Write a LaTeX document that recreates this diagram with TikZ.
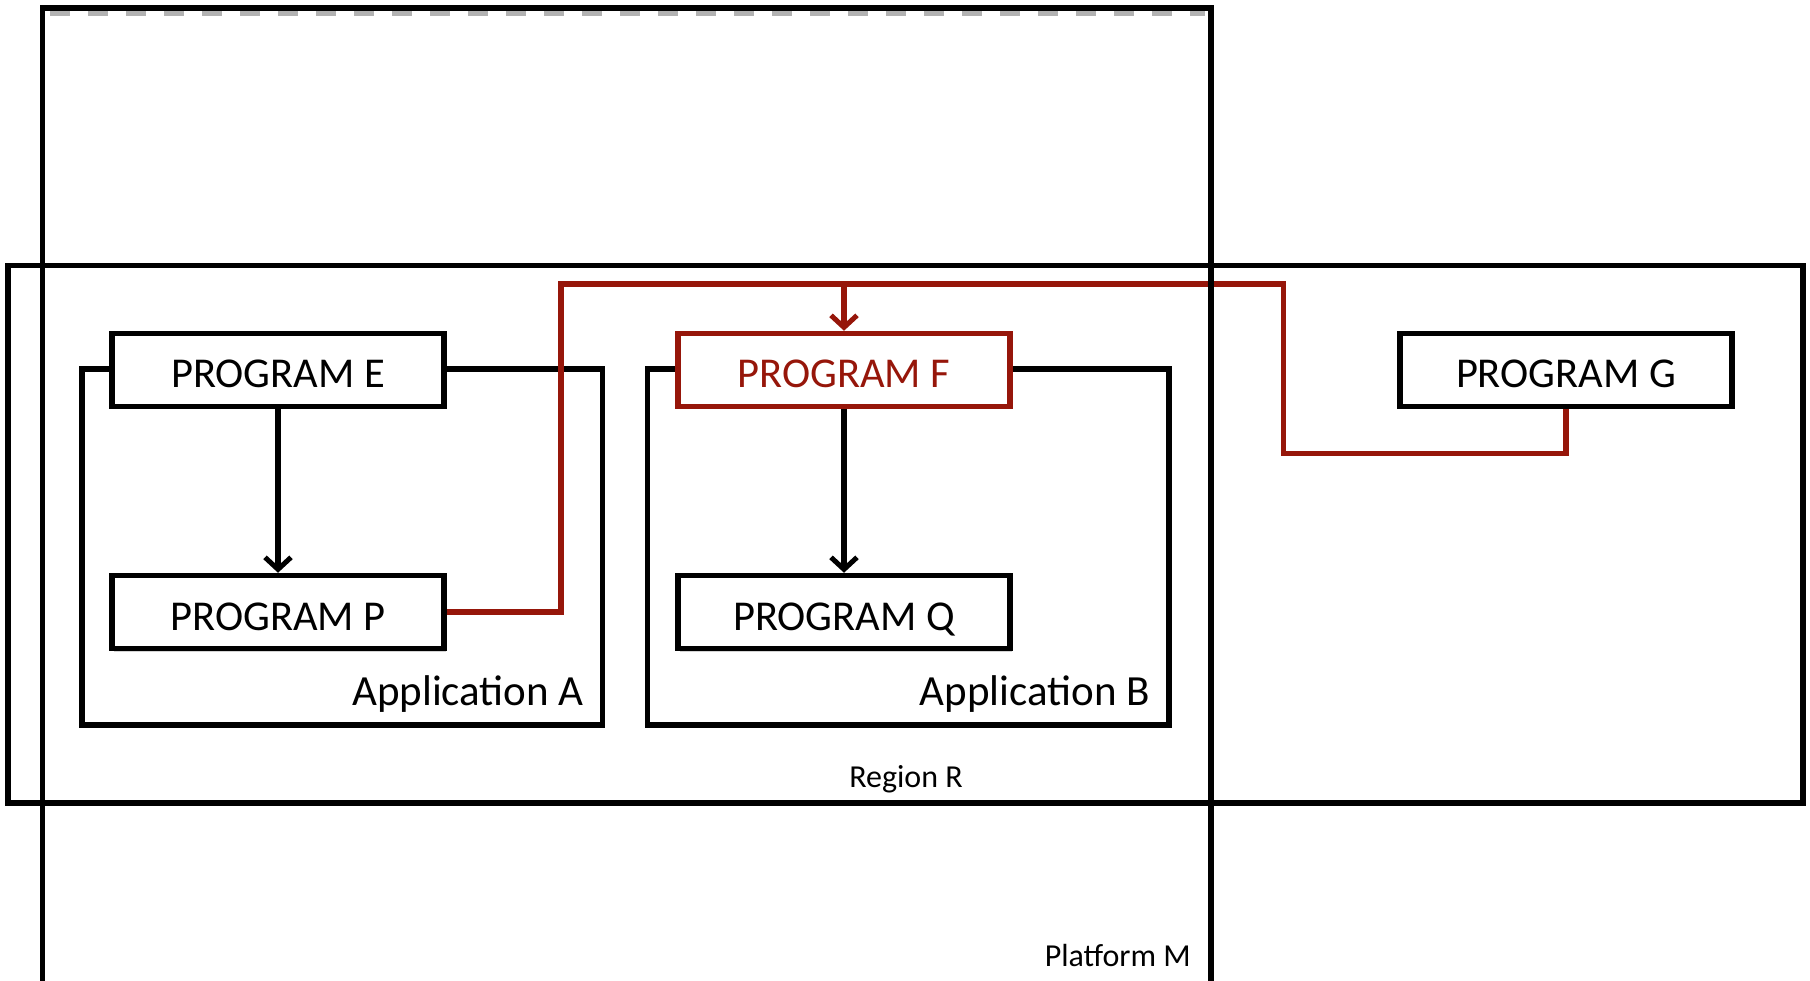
\documentclass[tikz,border=0pt]{standalone}
\usepackage{fontspec}
\setmainfont{Carlito}
\usetikzlibrary{arrows.meta,shadows}
\definecolor{dred}{RGB}{150,22,10}
\begin{document}
\begin{tikzpicture}[x=1pt,y=-1pt,
  frame/.style={draw=black,line width=5.5pt},
  prog/.style={draw=black,line width=5.5pt,fill=white,minimum width=332pt,minimum height=73pt,inner sep=0pt,font=\fontsize{42.5}{44}\selectfont,
    text height=36pt,text depth=0pt,
    drop shadow={opacity=0.35,shadow xshift=2pt,shadow yshift=-3pt}},
  redprog/.style={prog,draw=dred,text=dred},
  lbl/.style={font=\fontsize{43}{45}\selectfont,inner sep=0pt},
  slbl/.style={font=\fontsize{32}{34}\selectfont,inner sep=0pt},
  arr/.style={line width=5.5pt,-{Straight Barb[length=12pt,width=26pt,line width=5pt]}},
  redline/.style={draw=dred,line width=5.5pt}]
\useasboundingbox (0,0) rectangle (1810,981);
% Platform M
\draw[gray!60,line width=5pt,dash pattern=on 20pt off 18pt] (50,14) -- (1205,14);
\draw[frame] (42.7,990) -- (42.7,8) -- (1211,8) -- (1211,990);
\node[slbl,anchor=base east] (plat) at (1191,966) {Platform M};
% Region R
\draw[frame] (8,265.5) rectangle (1803,803);
\node[slbl,anchor=base] (reg) at (906,787) {Region R};
% Applications
\draw[frame] (82,369) rectangle (602.5,725);
\node[lbl,anchor=base east] (appa) at (584,705) {Application A};
\draw[frame] (647.5,369) rectangle (1169,725);
\node[lbl,anchor=base east] (appb) at (1150,705) {Application B};
% red connector
\coordinate (r1) at (561,612);
\coordinate (r2) at (561,284);
\coordinate (r3) at (1283.6,284);
\coordinate (r4) at (1283.6,453.6);
\coordinate (r5) at (1566,453.6);
\coordinate (rf) at (844,284);
% programs
\node[prog] (E) at (278,370) {PROGRAM E};
\node[prog] (P) at (278,612) {PROGRAM P};
\node[redprog] (F) at (844,370) {PROGRAM F};
\node[prog] (Q) at (844,612) {PROGRAM Q};
\node[prog] (G) at (1566,370) {PROGRAM G};
\draw[redline,line join=miter] (P.east) -- (r1) -- (r2) -- (r3) -- (r4) -- (r5) -- (G.south);
\draw[arr,dred] (rf) -- (F.north);
\draw[arr] (E.south) -- (P.north);
\draw[arr] (F.south) -- (Q.north);
\draw[line width=5.5pt] (1211,250) -- (1211,300);
\end{tikzpicture}
\end{document}
